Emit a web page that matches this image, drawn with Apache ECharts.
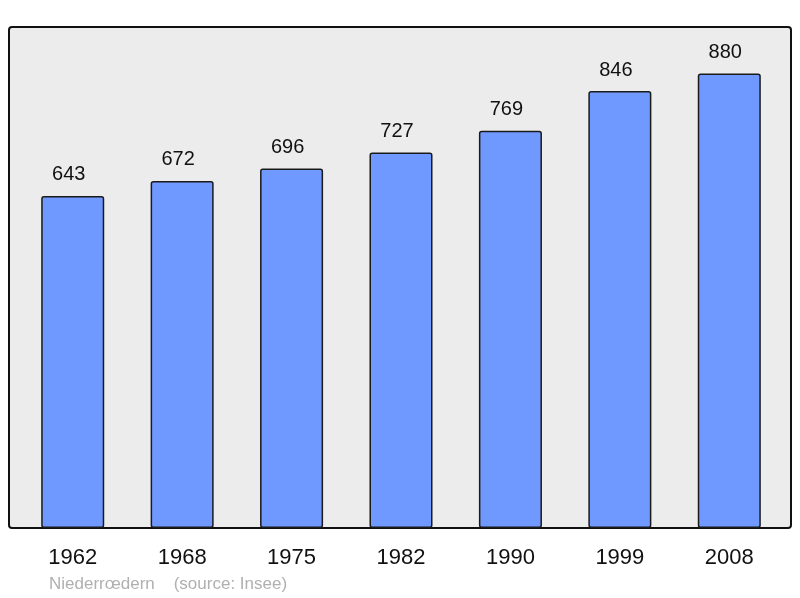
<!DOCTYPE html>
<html><head><meta charset="utf-8">
<script src="https://cdn.jsdelivr.net/npm/echarts@6/dist/echarts.min.js"></script>
<style>html,body{margin:0;padding:0;background:#fff}#c{width:800px;height:598px}</style>
</head><body><div id="c"></div>
<script>
const years = ['1962','1968','1975','1982','1990','1999','2008'];
const population = [643, 672, 696, 727, 769, 846, 880];
const chart = echarts.init(document.getElementById('c'));
chart.setOption({
  animation: false,
  textStyle: { fontFamily: 'Liberation Sans, Arial, sans-serif' },
  graphic: [
    { type: 'rect', z: -10, shape: { x: 9, y: 27, width: 782, height: 501, r: 3 },
      style: { fill: '#ececec', stroke: '#111', lineWidth: 2 } },
    { type: 'text', left: 49, top: 576, style: { text: 'Niederrœdern    (source: Insee)', fill: '#b0b0b0', font: '17px Liberation Sans, Arial, sans-serif' } }
  ],
  grid: { left: 18, right: 16, top: 27, bottom: 70 },
  xAxis: { type: 'category', data: years, axisLine: { show: false }, axisTick: { show: false },
    axisLabel: { fontSize: 22, color: '#111', margin: 19 } },
  yAxis: { type: 'value', min: 0, max: 970, show: false, splitLine: { show: false } },
  series: [{ type: 'bar', data: population, barWidth: '57.6%',
    itemStyle: { color: '#7099ff', borderColor: '#1a1a1a', borderWidth: 1.5, borderRadius: 2 },
    label: { show: true, position: 'top', distance: 11, offset: [-4, 0], fontSize: 20, color: '#111' } }]
});
</script></body></html>
